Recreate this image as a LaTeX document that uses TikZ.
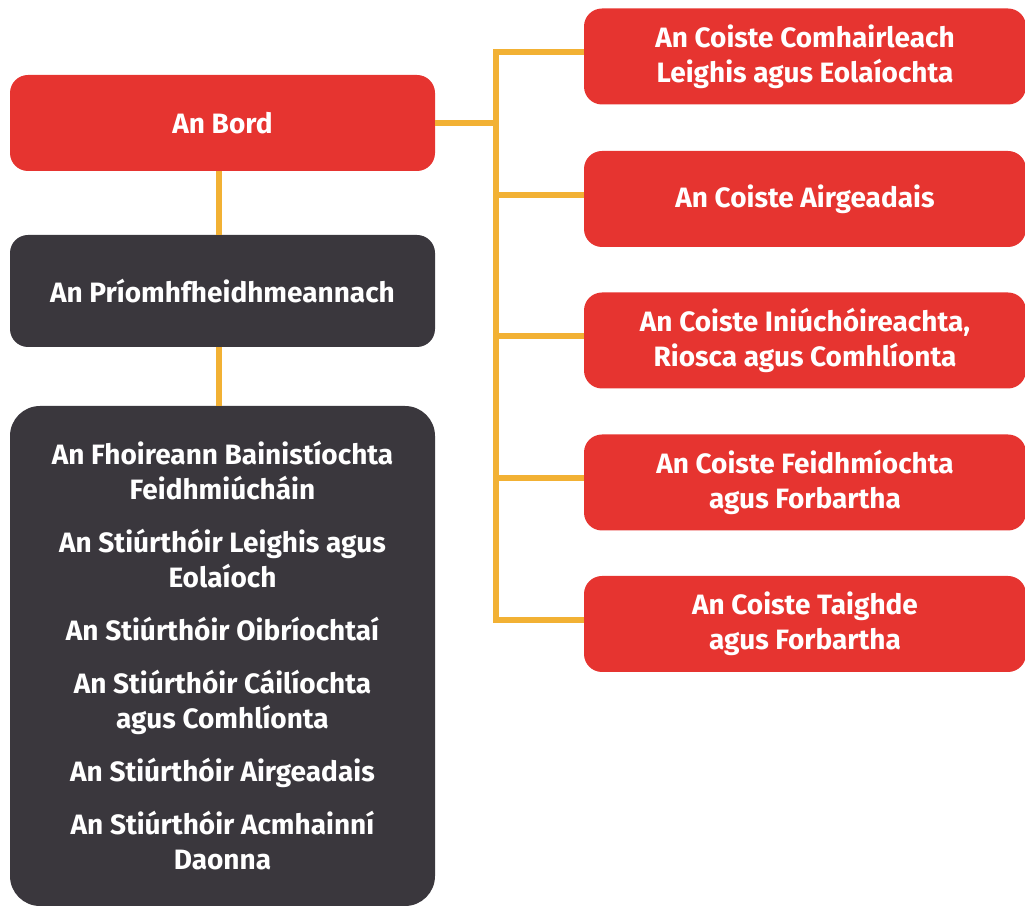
\documentclass[tikz,border=0pt]{standalone}
\usepackage{fontspec}
\setmainfont{Fira Sans}
\definecolor{boardred}{HTML}{E63430}
\definecolor{execgrey}{HTML}{3A373D}
\definecolor{linkyellow}{HTML}{F2B134}
\tikzset{
	unit/.style={
		rectangle,
		rounded corners=9pt,
		text=white,
		font=\bfseries\fontsize{14}{17.5}\selectfont,
		align=center,
		inner sep=0pt,
	},
	board/.style={
		unit,
		fill=boardred,
		minimum width=212.5pt,
		minimum height=48pt,
	},
	committee/.style={
		unit,
		fill=boardred,
		minimum width=221pt,
		minimum height=48pt,
	},
	executive/.style={
		unit,
		fill=execgrey,
		minimum width=212.5pt,
		minimum height=56pt,
	},
	team/.style={
		unit,
		fill=execgrey,
		rounded corners=15pt,
		minimum width=212.5pt,
		minimum height=250pt,
	},
	link/.style={
		draw=linkyellow,
		line width=3pt,
	},
}

\begin{document}
\begin{tikzpicture}[x=0.5pt, y=-0.5pt]
	\useasboundingbox (0,0) rectangle (1025,908);

	% Left column
	\node[board] (bord) at (222.5,123) {An Bord};
	\node[executive] (ceo) at (222.5,291) {An Príomhfheidhmeannach};
	\node[team] (mgmt) at (222.5,656) {An Fhoireann Bainistíochta\\Feidhmiúcháin\\[9pt]
		An Stiúrthóir Leighis agus\\Eolaíoch\\[9pt]
		An Stiúrthóir Oibríochtaí\\[9pt]
		An Stiúrthóir Cáilíochta\\agus Comhlíonta\\[9pt]
		An Stiúrthóir Airgeadais\\[9pt]
		An Stiúrthóir Acmhainní\\Daonna};

	% Committees
	\node[committee] (medsci) at (805,56.5) {An Coiste Comhairleach\\Leighis agus Eolaíochta};
	\node[committee] (finance) at (805,199) {An Coiste Airgeadais};
	\node[committee] (audit) at (805,340.5) {An Coiste Iniúchóireachta,\\Riosca agus Comhlíonta};
	\node[committee] (perf) at (805,482.5) {An Coiste Feidhmíochta\\agus Forbartha};
	\node[committee] (research) at (805,624) {An Coiste Taighde\\agus Forbartha};

	\coordinate (trunk) at (496,338);

	\draw[link] ([xshift=-2pt]bord.south) -- ([xshift=-2pt]ceo.north);
	\draw[link] ([xshift=-2pt]ceo.south) -- ([xshift=-2pt]mgmt.north);

	\draw[link] ([yshift=2pt]medsci.west) -| (trunk) |- ([yshift=2pt]research.west);
	\draw[link] (bord.east) -- (bord.east -| trunk);
	\draw[link] ([yshift=2pt]finance.west) -- ([yshift=2pt]finance.west -| trunk);
	\draw[link] ([yshift=2pt]audit.west) -- ([yshift=2pt]audit.west -| trunk);
	\draw[link] ([yshift=2pt]perf.west) -- ([yshift=2pt]perf.west -| trunk);
\end{tikzpicture}
\end{document}
